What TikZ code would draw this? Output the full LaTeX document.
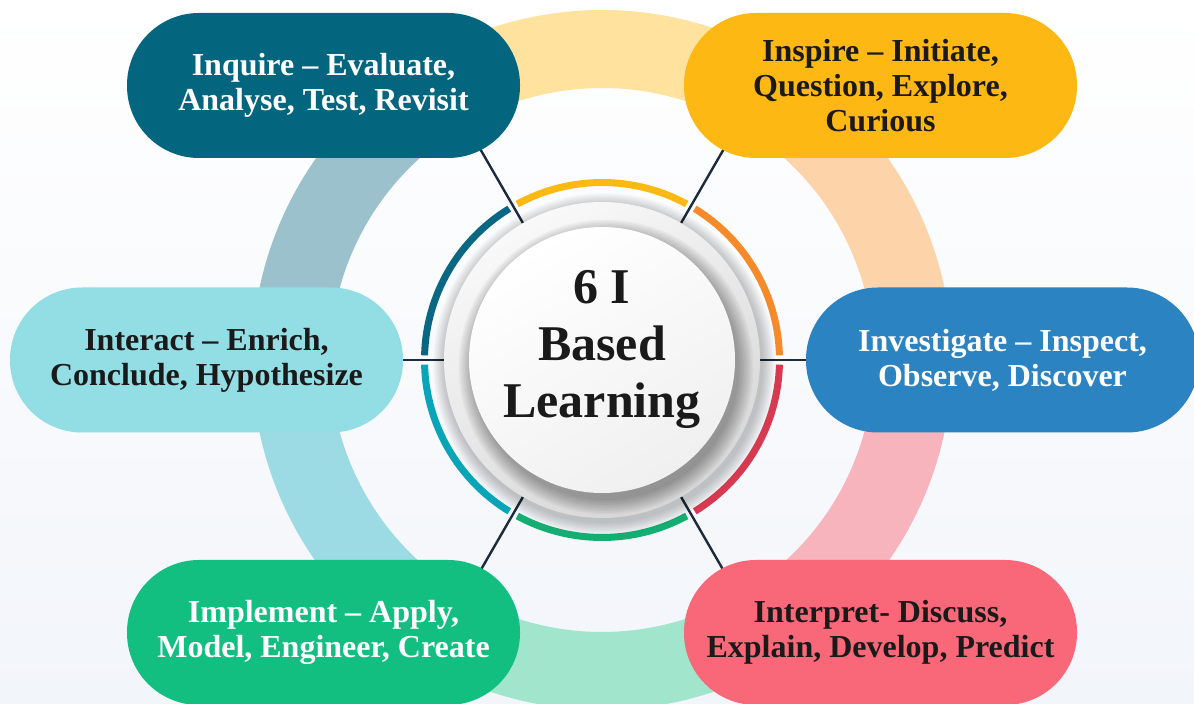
\documentclass[tikz,border=0pt]{standalone}
\usepackage{fontspec}
\setmainfont{Liberation Serif}
\usetikzlibrary{calc}
\definecolor{bgbot}{HTML}{F2F5FA}
\definecolor{ctl}{HTML}{04657E}
\definecolor{ctr}{HTML}{FDB813}
\definecolor{cl}{HTML}{93DDE5}
\definecolor{cr}{HTML}{2B83C1}
\definecolor{cbl}{HTML}{12BF80}
\definecolor{cbr}{HTML}{F96878}
\definecolor{rya}{HTML}{FEE29E}
\definecolor{rpe}{HTML}{FDD3AA}
\definecolor{rpi}{HTML}{F8B4BC}
\definecolor{rgr}{HTML}{A0E5CC}
\definecolor{rcy}{HTML}{9CDBE3}
\definecolor{rgb}{HTML}{9BC2CC}
\definecolor{sye}{HTML}{FDB913}
\definecolor{sor}{HTML}{F58A2B}
\definecolor{sre}{HTML}{D73A50}
\definecolor{sgr}{HTML}{14AE73}
\definecolor{ste}{HTML}{08A4B8}
\definecolor{sdt}{HTML}{0A6781}
\definecolor{conn}{HTML}{1B2A3C}
\definecolor{dtext}{HTML}{1A1A1A}
\tikzset{
  stadium/.style={minimum width=393pt, minimum height=145pt, rounded corners=72pt,
    inner sep=0pt, align=center, font=\fontsize{32}{35}\selectfont\bfseries},
  bigarc/.style={line width=78pt},
  smallarc/.style={line width=7pt},
  connline/.style={draw=conn, line width=2.4pt},
}
\begin{document}
\begin{tikzpicture}[x=1pt,y=1pt]
\useasboundingbox (0,0) rectangle (1194,704);
\clip (0,0) rectangle (1194,704);
\shade[top color=white, bottom color=bgbot] (0,0) rectangle (1194,704);
\coordinate (C) at (602,344);
% big outer ring
\draw[bigarc, rya] ($(C)+(60:311pt)$) arc (60:120:311pt);
\draw[bigarc, rgb] ($(C)+(120:311pt)$) arc (120:180:311pt);
\draw[bigarc, rcy] ($(C)+(180:311pt)$) arc (180:240:311pt);
\draw[bigarc, rgr] ($(C)+(240:311pt)$) arc (240:300:311pt);
\draw[bigarc, rpi] ($(C)+(300:311pt)$) arc (300:360:311pt);
\draw[bigarc, rpe] ($(C)+(0:311pt)$) arc (0:60:311pt);
% disc node (for connectors)
\node[circle, minimum size=316pt, inner sep=0pt] (disc) at (C) {};
\foreach \a in {0,60,120,180,240,300}{
  \coordinate (e\a) at ($(C)+(\a:250pt)$);
  \draw[connline] (disc.\a) -- (e\a);
}
% small coloured ring
\draw[smallarc, sor] ($(C)+(1.5:177.5pt)$) arc (1.5:58.5:177.5pt);
\draw[smallarc, sye] ($(C)+(61.5:177.5pt)$) arc (61.5:118.5:177.5pt);
\draw[smallarc, sdt] ($(C)+(121.5:177.5pt)$) arc (121.5:178.5:177.5pt);
\draw[smallarc, ste] ($(C)+(181.5:177.5pt)$) arc (181.5:238.5:177.5pt);
\draw[smallarc, sgr] ($(C)+(241.5:177.5pt)$) arc (241.5:298.5:177.5pt);
\draw[smallarc, sre] ($(C)+(301.5:177.5pt)$) arc (301.5:358.5:177.5pt);
% disc shadows and discs
\foreach \i in {1,...,10}{
  \pgfmathsetmacro{\rr}{158+\i*1.3}
  \fill[black, opacity=0.025] ($(C)+(2,-4)$) circle[radius=\rr pt];
}
\shade[top color=gray!5, bottom color=gray!32, shading angle=30] (C) circle[radius=158pt];
\foreach \i in {0,...,9}{
  \pgfmathsetmacro{\rr}{133+\i*1.6}
  \fill[black, opacity=0.035] ($(C)+(4,-7)$) circle[radius=\rr pt];
}
\shade[top color=white, bottom color=gray!12, shading angle=30] (C) circle[radius=133pt];
\node[align=center, font=\fontsize{50}{57}\selectfont\bfseries, text=dtext] (title) at (602,355)
  {6 I\\Based\\Learning};
% boxes
\node[stadium, fill=ctl, text=white] (tl) at (323.5,618.5) {Inquire – Evaluate,\\Analyse, Test, Revisit};
\node[stadium, fill=ctr, text=dtext] (tr) at (880.5,618.5) {Inspire – Initiate,\\Question, Explore,\\Curious};
\node[stadium, fill=cl, text=dtext] (l) at (206.5,344) {Interact – Enrich,\\Conclude, Hypothesize};
\node[stadium, fill=cr, text=white] (r) at (1002.5,344) {Investigate – Inspect,\\Observe, Discover};
\node[stadium, fill=cbl, text=white] (bl) at (323.5,71.5) {Implement – Apply,\\Model, Engineer, Create};
\node[stadium, fill=cbr, text=dtext] (br) at (880.5,71.5) {Interpret- Discuss,\\Explain, Develop, Predict};
\end{tikzpicture}
\end{document}
